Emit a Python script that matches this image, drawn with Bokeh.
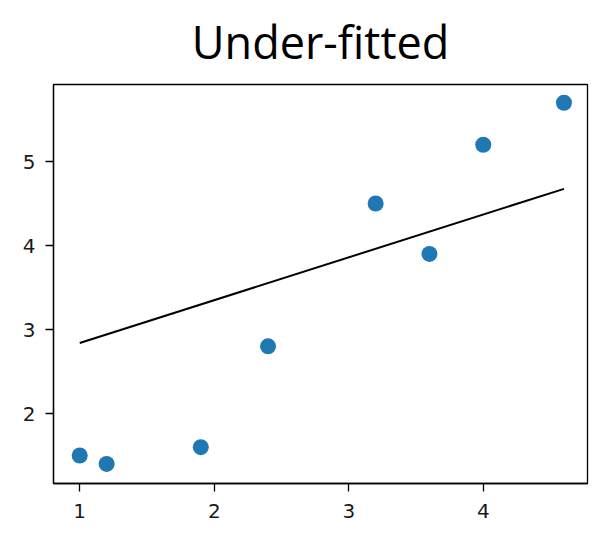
from bokeh.plotting import figure
from bokeh.models import FixedTicker, Range1d
from bokeh.embed import file_html
from bokeh.resources import INLINE

# Data
x_vals = [1.0, 1.2, 1.9, 2.4, 3.2, 3.6, 4.0, 4.6]
y_vals = [1.5, 1.4, 1.6, 2.8, 4.5, 3.9, 5.2, 5.7]
fit_x = [1.0, 4.6]
fit_y = [2.84, 4.675]
x_ticks = [1, 2, 3, 4]
y_ticks = [2, 3, 4, 5]
title_text = "Under-fitted"

p = figure(width=596, height=529, output_backend="svg", toolbar_location=None,
           x_range=Range1d(0.805, 4.775), y_range=Range1d(1.167, 5.917),
           title=title_text,
           min_border_left=53, min_border_right=9, min_border_bottom=46,
           min_border_top=84)

p.title.text_font = "Open Sans"
p.title.text_font_size = "45px"
p.title.text_font_style = "normal"
p.title.align = "center"
p.title.vertical_align = "top"
p.title.text_color = "black"
p.title.standoff = 21

p.scatter(x_vals, y_vals, size=16, color="#1f77b4", line_color=None)
p.line(fit_x, fit_y, line_color="black", line_width=2)

p.xgrid.visible = False
p.ygrid.visible = False
p.outline_line_color = "black"
p.outline_line_width = 1.3
p.outline_line_alpha = 1.0

for ax, ticks in ((p.xaxis, x_ticks), (p.yaxis, y_ticks)):
    ax.ticker = FixedTicker(ticks=ticks)
    ax.minor_tick_line_color = None
    ax.major_tick_in = 0
    ax.major_tick_out = 8
    ax.major_tick_line_width = 1.3
    ax.axis_line_width = 1.3
    ax.axis_line_color = "black"
    ax.major_tick_line_color = "black"
    ax.major_label_text_font = "DejaVu Sans"
    ax.major_label_text_font_size = "20px"
    ax.major_label_text_color = "#1a1a1a"

p.xaxis.major_label_standoff = 12
p.yaxis.major_label_standoff = 10

open("out.html", "w").write(file_html(p, INLINE))
